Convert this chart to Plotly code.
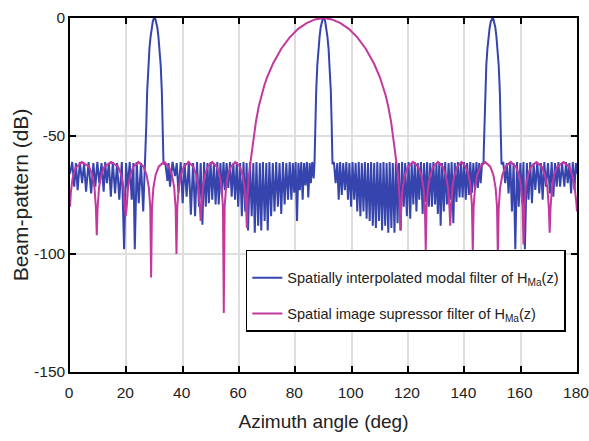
import plotly.graph_objects as go

# ---------------- data ----------------
# Blue: spatially interpolated modal filter (sidelobe ripples + 3 main lobes)
blue_side1_x = [0.0, 0.8, 1.5, 2.1, 2.7, 3.5, 4.3, 5.0, 5.7, 6.6, 7.5, 8.3, 9.0, 9.7, 10.4, 11.2, 11.95, 12.5,
                13.1, 13.8, 14.5, 15.2, 16.0, 16.7, 17.5, 18.4, 19.2, 19.9, 20.5, 21.2, 21.9, 22.5, 23.0, 23.7,
                24.4, 25.2, 26.0, 26.6]
blue_side1_y = [-66, -61, -71.5, -61.5, -73, -61, -70, -61.5, -73.6, -61, -74.3, -61.5, -71.5, -61, -70, -61.5,
                -73.6, -61, -70, -61.5, -75.7, -61, -74.3, -61.5, -77, -61, -98, -61.5, -72, -61, -77, -61.5,
                -98, -61, -78.5, -61.5, -82, -62]

blue_lobe1_x = [26.8, 26.9, 27.1, 27.4, 27.8, 28.2, 28.6, 29.0, 29.4, 29.7, 30.0, 30.3, 30.6, 31.0, 31.4, 31.8,
                32.2, 32.6, 32.9, 33.1, 33.2]
blue_lobe1_y = [-62, -56, -45, -31, -20, -13, -8, -4, -1.5, -0.4, 0, -0.4, -1.5, -4, -8, -13, -20, -31, -45, -56, -62]

blue_side2_x = [33.8, 34.6, 35.0, 35.5, 36.4, 37.3, 37.9, 38.5, 39.3, 40.0, 40.7, 41.4, 42.2, 42.9, 43.7, 44.4,
                45.1, 45.8, 46.4, 47.0, 47.6, 48.2, 48.8, 49.3, 49.9, 50.5, 51.1, 51.7, 52.3, 52.8, 53.4, 53.9,
                54.5, 55.0, 55.6, 56.2, 56.8, 57.4, 58.0, 58.6, 59.2, 59.7, 60.4, 61.0, 61.6, 62.2, 62.7, 63.2,
                63.9, 64.5, 65.1, 65.6, 66.2, 66.8, 67.4, 67.9, 68.5, 69.1, 69.7, 70.2, 70.8, 71.4, 72.0, 72.6,
                73.2, 73.8, 74.4, 75.0, 75.6, 76.2, 76.8, 77.4, 78.0, 78.6, 79.1, 79.6, 80.1, 80.6, 81.1, 81.6,
                82.1, 82.6, 83.1, 83.6, 84.1, 84.6, 85.1, 85.5, 86.0, 86.5]
blue_side2_y = [-61, -69, -61.5, -71.5, -61, -67, -61.5, -74, -61, -78.5, -61.5, -75.7, -61, -83.4, -61.5, -84,
                -61, -80, -61.5, -87.6, -61, -80, -61.5, -78.5, -61, -77, -61.5, -79, -61, -79, -61.5, -75,
                -61, -73, -61.5, -72, -61, -75.7, -61.5, -77, -61, -80, -61.5, -84, -61, -82, -61.5, -90,
                -61, -84, -61.5, -91, -61, -88, -61.5, -90, -61, -86, -61.5, -90, -61, -84, -61.5, -82,
                -61, -80, -61.5, -83, -61, -79, -61.5, -77, -61, -77, -61.5, -74, -61, -86, -61.5, -73,
                -61, -77, -61.5, -71, -61, -76, -61.5, -70, -61, -68]

blue_lobe2_x = [86.8, 86.9, 87.1, 87.4, 87.8, 88.2, 88.6, 89.0, 89.4, 89.7, 90.0, 90.3, 90.6, 91.0, 91.4, 91.8,
                92.2, 92.6, 92.9, 93.1, 93.2]
blue_lobe2_y = [-62, -56, -45, -31, -20, -13, -8, -4, -1.5, -0.4, 0, -0.4, -1.5, -4, -8, -13, -20, -31, -45, -56, -62]

blue_side3_x = [93.7, 94.3, 94.9, 95.4, 95.9, 96.5, 97.0, 97.6, 98.1, 98.7, 99.2, 99.8, 100.3, 100.9, 101.4, 102.0,
                102.5, 103.1, 103.6, 104.2, 104.7, 105.3, 105.8, 106.4, 106.9, 107.5, 108.0, 108.6, 109.1, 109.7,
                110.2, 110.8, 111.3, 111.9, 112.4, 113.0, 113.5, 114.1, 114.6, 115.2, 115.7, 116.3, 116.8, 117.4,
                117.9, 118.5, 119.0, 119.6, 120.2, 120.8, 121.3, 121.9, 122.4, 123.0, 123.5, 124.0, 124.6, 125.2,
                125.7, 126.3, 126.8, 127.4, 127.9, 128.5, 129.0, 129.6, 130.1, 130.6, 131.1, 131.6, 132.1, 132.7,
                133.2, 133.8, 134.4, 135.0, 135.5, 136.1, 136.6, 137.2, 137.7, 138.3, 138.8, 139.4, 139.9, 140.5,
                141.0, 141.6, 142.1, 142.7, 143.2, 143.8, 144.3, 144.8, 145.3, 145.8, 146.3]
blue_side3_y = [-61, -70, -61.5, -77, -61, -75, -61.5, -73, -61, -77, -61.5, -80, -61, -77, -61.5, -82,
                -61, -84, -61.5, -82, -61, -85, -61.5, -86, -61, -88, -61.5, -89, -61, -86,
                -61.5, -90, -61, -88, -61.5, -91, -61, -89, -61.5, -91, -61, -87, -61.5, -90,
                -61, -80, -61.5, -84, -61, -85, -61.5, -79, -61, -82, -61.5, -77, -61, -83,
                -61.5, -78, -61, -80, -61.5, -80, -61, -79, -61.5, -83, -61, -88, -61.5, -82,
                -61, -79, -61.5, -77, -61, -87, -61.5, -78, -61, -76, -61.5, -76, -61, -77,
                -61.5, -75, -61, -74, -61.5, -73, -61, -72, -61.5, -70, -61.5]

blue_lobe3_x = [146.8, 146.9, 147.1, 147.4, 147.8, 148.2, 148.6, 149.0, 149.4, 149.7, 150.0, 150.3, 150.6, 151.0,
                151.4, 151.8, 152.2, 152.6, 152.9, 153.1, 153.2]
blue_lobe3_y = [-62, -56, -45, -31, -20, -13, -8, -4, -1.5, -0.4, 0, -0.4, -1.5, -4, -8, -13, -20, -31, -45, -56, -62]

blue_side4_x = [153.8, 154.5, 155.1, 155.7, 156.3, 156.9, 157.5, 158.1, 158.7, 159.3, 159.9, 160.5, 161.0, 161.5,
                162.2, 162.8, 163.4, 164.0, 164.6, 165.2, 165.9, 166.6, 167.2, 167.8, 168.4, 169.0, 169.7, 170.4,
                171.0, 171.6, 172.2, 172.8, 173.4, 174.0, 174.7, 175.5, 176.1, 176.7, 177.3, 177.9, 178.5, 179.1,
                179.6, 180.0]
blue_side4_y = [-61, -70, -61.5, -74.3, -61, -82, -61.5, -98, -61, -80, -61.5, -78.5, -61, -98,
                -61.5, -77, -61, -78.5, -61.5, -72.9, -61, -74.3, -61.5, -77, -61, -71.5, -61.5, -74.3,
                -61, -75.7, -61.5, -71.5, -61, -71.5, -61.5, -71.5, -61, -70, -61.5, -74.3, -61, -72.9,
                -61.5, -66]

# Magenta: spatial image suppressor filter (wide main lobe at 90 deg + arched sidelobes)
mag_left_x = [0.0, 0.3, 0.9, 2.0, 4.2, 6.8, 7.9, 8.7, 9.2, 9.5,
              9.8, 10.3, 11.1, 12.2, 14.6, 17.1, 18.2, 19.0, 19.5, 19.8,
              20.1, 20.6, 21.4, 22.5, 24.3, 26.1, 27.2, 28.0, 28.5, 28.8,
              29.1, 29.6, 30.4, 31.5, 33.3, 35.1, 36.2, 37.0, 37.5, 37.8,
              38.1, 38.6, 39.4, 40.4, 42.1, 43.8, 44.8, 45.6, 46.1, 46.4,
              46.7, 47.2, 47.9, 48.9, 50.5, 52.1, 53.1, 53.8, 54.3, 54.6,
              54.9, 55.4, 56.1, 57.1, 58.7, 60.3, 61.3, 62.0, 62.5, 62.8]
mag_left_y = [-80, -74, -68, -63.5, -61, -63, -66.5, -72, -80.5, -92,
              -80.5, -72, -66.5, -63, -61, -63, -66.5, -72, -80.5, -84,
              -80.5, -72, -66.5, -63, -61, -63, -66.5, -72, -80.5, -110,
              -80.5, -72, -66.5, -63, -61, -63, -66.5, -72, -80.5, -100,
              -80, -72, -66.5, -63, -61, -63, -66.5, -72, -80, -86,
              -80, -72, -66.5, -63, -61, -63, -66.5, -72, -80, -125,
              -80, -72, -66.5, -63, -61, -63, -66.5, -72, -80, -89]

mag_main_x = [63.0, 63.5, 64.2, 65.0, 66.0, 67.0, 68.0, 69.0, 70.0, 72.0, 75.0, 78.0, 81.0, 84.0, 87.0, 90.0,
              93.0, 96.0, 99.0, 102.0, 105.0, 108.0, 110.0, 111.0, 112.0, 113.0, 114.0, 115.0, 115.8, 116.5,
              117.0, 117.3]
mag_main_y = [-76, -67, -60, -52, -44, -37.5, -32.5, -28.5, -25, -19.5, -13, -8.2, -4.6, -2.2, -0.6, 0,
              -0.6, -2.2, -4.6, -8.2, -13, -19.5, -25, -28.5, -32.5, -37.5, -44, -53, -60, -67,
              -76, -90]

mag_right_x = [117.6, 118.1, 118.9, 120.0, 121.8, 123.6, 124.7, 125.5, 126.0, 126.3,
               126.6, 127.1, 127.9, 128.9, 130.6, 132.3, 133.4, 134.2, 134.7, 135.0,
               135.3, 135.8, 136.5, 137.5, 139.0, 140.5, 141.5, 142.2, 142.7, 143.0,
               143.3, 143.8, 144.6, 145.7, 147.4, 149.2, 150.3, 151.1, 151.6, 151.9,
               152.2, 152.7, 153.5, 154.6, 156.4, 158.3, 159.4, 160.2, 160.7, 161.0,
               161.3, 161.8, 162.6, 163.7, 165.6, 167.5, 168.6, 169.5, 170.0, 170.3,
               170.6, 171.1, 171.9, 173.0, 175.2, 177.2, 178.3, 179.2, 179.7, 180.0]
mag_right_y = [-80.5, -72, -66.5, -63, -61, -63, -66.5, -72, -80.5, -98.6,
               -80, -72, -66.5, -63, -61, -63, -66.5, -72, -80, -88,
               -79.5, -71.5, -66.5, -63, -61, -63, -66.5, -71.5, -79.5, -99,
               -80, -72, -66.5, -63, -61, -63, -66.5, -72, -80, -101,
               -80.5, -72, -66.5, -63, -61, -63, -66.5, -72, -80.5, -96,
               -80.5, -72, -66.5, -63, -61, -63, -66.5, -72, -80.5, -91,
               -80.5, -72, -66.5, -63, -61, -63, -66.5, -72, -77.5, -82]

x_ticks = [0, 20, 40, 60, 80, 100, 120, 140, 160, 180]
y_ticks = [-150, -100, -50, 0]
y_tick_text = ["-150", "-100", "-50", "0"]

legend_blue = "Spatially interpolated modal filter of H<sub>Ma</sub>(z)"
legend_mag = "Spatial image supressor filter of H<sub>Ma</sub>(z)"

# ---------------- assemble ----------------
blue_x = blue_side1_x + blue_lobe1_x + blue_side2_x + blue_lobe2_x + blue_side3_x + blue_lobe3_x + blue_side4_x
blue_y = blue_side1_y + blue_lobe1_y + blue_side2_y + blue_lobe2_y + blue_side3_y + blue_lobe3_y + blue_side4_y
mag_x = mag_left_x + mag_main_x + mag_right_x
mag_y = mag_left_y + mag_main_y + mag_right_y

BLUE = "#3644ad"
MAGENTA = "#c2389f"
FONT = "Liberation Sans, Arial, sans-serif"

fig = go.Figure()
fig.add_trace(go.Scatter(x=blue_x, y=blue_y, mode="lines", name=legend_blue,
                         line=dict(color=BLUE, width=2), legendgroup="a"))
fig.add_trace(go.Scatter(x=mag_x, y=mag_y, mode="lines", name=legend_mag,
                         line=dict(color=MAGENTA, width=2), legendgroup="b"))

axis_common = dict(showgrid=True, gridcolor="#dedede", gridwidth=1.5,
                   showline=True, linecolor="black", linewidth=1.5, mirror="ticks",
                   ticks="inside", ticklen=6, tickwidth=1.5, tickcolor="black",
                   zeroline=False, ticklabeloverflow="allow")

fig.update_xaxes(range=[0, 180], tickvals=x_ticks,
                 tickfont=dict(family=FONT, size=15.5, color="#222"),
                 ticklabelstandoff=6, ticklabelshift=-1,
                 title=dict(text="Azimuth angle (deg)", font=dict(family=FONT, size=19, color="#222"),
                            standoff=14),
                 **axis_common)
fig.update_yaxes(range=[-150, 0], tickvals=y_ticks, ticktext=y_tick_text,
                 tickfont=dict(family=FONT, size=15.5, color="#222"),
                 title=dict(text="Beam-pattern (dB)", font=dict(family=FONT, size=21, color="#222"),
                            standoff=0),
                 **axis_common)

fig.update_layout(
    width=589, height=441,
    margin=dict(l=70, r=12, t=18, b=69, autoexpand=False),
    plot_bgcolor="white", paper_bgcolor="white",
    showlegend=True,
    legend=dict(x=0.978, xanchor="right", y=0.345, yanchor="top",
                bgcolor="white", bordercolor="black", borderwidth=1.5,
                font=dict(family=FONT, size=14.5, color="#222"),
                title=dict(text=" ", font=dict(size=8)),
                tracegroupgap=14),
)

# remove the browser's default 8px body margin so the 589x441 figure fills the window exactly
fig.write_html("out.html", config={"displayModeBar": False},
               post_script="document.body.style.margin='0';document.body.style.overflow='hidden';")
